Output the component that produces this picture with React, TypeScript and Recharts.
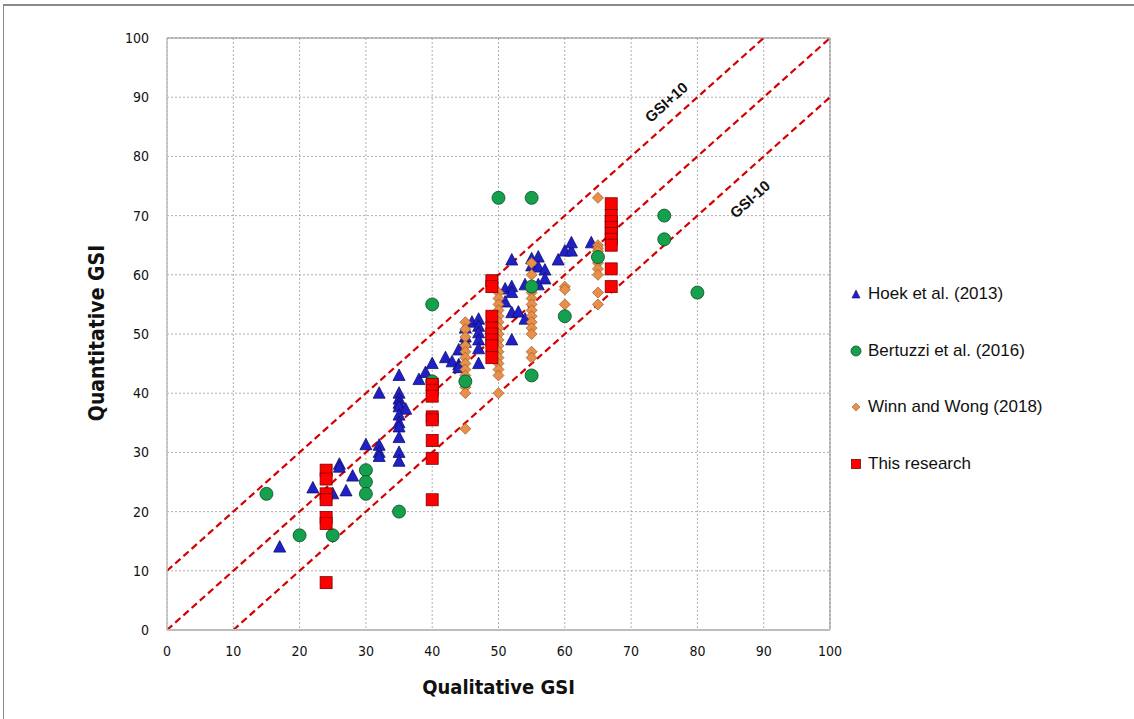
import React from 'react';
import {
  ScatterChart, Scatter, XAxis, YAxis, CartesianGrid, ReferenceLine, ReferenceDot,
} from 'recharts';

type Pt = { x: number; y: number };

const ticks = [0, 10, 20, 30, 40, 50, 60, 70, 80, 90, 100];

const hoekData: Pt[] = [
  { x: 17, y: 14 }, { x: 22, y: 24 }, { x: 25, y: 23 }, { x: 26, y: 28 }, { x: 26, y: 27.5 },
  { x: 27, y: 23.5 }, { x: 28, y: 26 }, { x: 30, y: 31.3 }, { x: 32, y: 31.2 }, { x: 32, y: 30 },
  { x: 32, y: 29.3 }, { x: 32, y: 40 }, { x: 35, y: 43 }, { x: 35, y: 40 }, { x: 35, y: 39 },
  { x: 35, y: 38.3 }, { x: 35, y: 37.7 }, { x: 36, y: 37.3 }, { x: 35, y: 36.3 }, { x: 35, y: 35 },
  { x: 35, y: 34.3 }, { x: 35, y: 32.5 }, { x: 35, y: 30 }, { x: 35, y: 28.5 }, { x: 38, y: 42.3 },
  { x: 39, y: 43.5 }, { x: 40, y: 45 }, { x: 42, y: 46 }, { x: 43, y: 45.3 }, { x: 44, y: 47.3 },
  { x: 44, y: 44.8 }, { x: 44, y: 44.3 }, { x: 45, y: 51 }, { x: 45, y: 49.5 }, { x: 45, y: 48.6 },
  { x: 46, y: 52 }, { x: 47, y: 52.5 }, { x: 47, y: 51.3 }, { x: 47, y: 50.2 }, { x: 47, y: 49 },
  { x: 47, y: 47.5 }, { x: 47, y: 45 }, { x: 51, y: 57.6 }, { x: 52, y: 58 }, { x: 52, y: 57 },
  { x: 51, y: 55.4 }, { x: 52, y: 53.6 }, { x: 53, y: 53.7 }, { x: 52, y: 49 }, { x: 54, y: 52.5 },
  { x: 52, y: 62.5 }, { x: 55, y: 62.7 }, { x: 56, y: 63 }, { x: 55, y: 61.5 }, { x: 56, y: 61.3 },
  { x: 57, y: 60.8 }, { x: 57, y: 59.3 }, { x: 54, y: 58.3 }, { x: 56, y: 58.3 }, { x: 59, y: 62.5 },
  { x: 60, y: 64 }, { x: 61, y: 64 }, { x: 61, y: 65.4 }, { x: 64, y: 65.4 },
];

const bertuzziData: Pt[] = [
  { x: 15, y: 23 }, { x: 20, y: 16 }, { x: 25, y: 16 }, { x: 30, y: 27 }, { x: 30, y: 25 },
  { x: 30, y: 23 }, { x: 35, y: 20 }, { x: 40, y: 55 }, { x: 40, y: 42 }, { x: 45, y: 42 },
  { x: 50, y: 73 }, { x: 55, y: 73 }, { x: 55, y: 58 }, { x: 55, y: 43 }, { x: 60, y: 53 },
  { x: 65, y: 63 }, { x: 75, y: 70 }, { x: 75, y: 66 }, { x: 80, y: 57 },
];

const winnData: Pt[] = [
  { x: 45, y: 52 }, { x: 45, y: 50.8 }, { x: 45, y: 49.5 }, { x: 45, y: 48 }, { x: 45, y: 47 },
  { x: 45, y: 46 }, { x: 45, y: 45 }, { x: 45, y: 44 }, { x: 45, y: 43 }, { x: 45, y: 42 },
  { x: 45, y: 41 }, { x: 45, y: 40 }, { x: 45, y: 34 },
  { x: 50, y: 57 }, { x: 50, y: 56 }, { x: 50, y: 55 }, { x: 50, y: 54 }, { x: 50, y: 53 },
  { x: 50, y: 52 }, { x: 50, y: 51 }, { x: 50, y: 50 }, { x: 50, y: 49 }, { x: 50, y: 48 },
  { x: 50, y: 47 }, { x: 50, y: 46 }, { x: 50, y: 45 }, { x: 50, y: 44 }, { x: 50, y: 43 },
  { x: 50, y: 40 },
  { x: 55, y: 62 }, { x: 55, y: 60 }, { x: 55, y: 57 }, { x: 55, y: 56 }, { x: 55, y: 55 },
  { x: 55, y: 54 }, { x: 55, y: 53 }, { x: 55, y: 52 }, { x: 55, y: 51 }, { x: 55, y: 50 },
  { x: 55, y: 47 }, { x: 55, y: 46 },
  { x: 60, y: 58 }, { x: 60, y: 57.5 }, { x: 60, y: 55 },
  { x: 65, y: 73 }, { x: 65, y: 65 }, { x: 65, y: 64.5 }, { x: 65, y: 64 }, { x: 65, y: 63 },
  { x: 65, y: 62.5 }, { x: 65, y: 62 }, { x: 65, y: 61 }, { x: 65, y: 60 }, { x: 65, y: 57 },
  { x: 65, y: 55 },
];

const researchData: Pt[] = [
  { x: 24, y: 27 }, { x: 24, y: 25.5 }, { x: 24, y: 23 }, { x: 24, y: 22 }, { x: 24, y: 19 },
  { x: 24, y: 18 }, { x: 24, y: 8 },
  { x: 40, y: 41.5 }, { x: 40, y: 40.5 }, { x: 40, y: 39.5 }, { x: 40, y: 36 }, { x: 40, y: 35.5 },
  { x: 40, y: 32 }, { x: 40, y: 29 }, { x: 40, y: 22 },
  { x: 49, y: 59 }, { x: 49, y: 58 }, { x: 49, y: 53 }, { x: 49, y: 51 }, { x: 49, y: 50 },
  { x: 49, y: 49 }, { x: 49, y: 48 }, { x: 49, y: 46 },
  { x: 67, y: 72 }, { x: 67, y: 70 }, { x: 67, y: 69 }, { x: 67, y: 68 }, { x: 67, y: 67 },
  { x: 67, y: 66 }, { x: 67, y: 65 }, { x: 67, y: 61 }, { x: 67, y: 58 },
];

const upperLine = [{ x: 0, y: 10 }, { x: 90, y: 100 }];
const midLine = [{ x: 0, y: 0 }, { x: 100, y: 100 }];
const lowerLine = [{ x: 10, y: 0 }, { x: 100, y: 90 }];

const legendItems = [
  { name: 'Hoek et al. (2013)', kind: 'tri' },
  { name: 'Bertuzzi et al. (2016)', kind: 'circle' },
  { name: 'Winn and Wong (2018)', kind: 'diamond' },
  { name: 'This research', kind: 'square' },
];

const narrow = "'Liberation Sans Narrow', 'DejaVu Sans Condensed', 'Liberation Sans', Arial, sans-serif";

const Triangle = (p: any) => {
  const { cx, cy } = p;
  return <path d={`M${cx},${cy - 6.5}L${cx + 6},${cy + 5}L${cx - 6},${cy + 5}Z`} fill="#2020C8" stroke="#10106a" strokeWidth={0.8} />;
};
const Circle = (p: any) => <circle cx={p.cx} cy={p.cy} r={6.5} fill="#14A04C" stroke="#0b4d24" strokeWidth={0.8} />;
const Diamond = (p: any) => {
  const { cx, cy } = p;
  return <path d={`M${cx},${cy - 5.5}L${cx + 5.5},${cy}L${cx},${cy + 5.5}L${cx - 5.5},${cy}Z`} fill="#E8904A" stroke="#9a5a28" strokeWidth={0.7} />;
};
const Square = (p: any) => <rect x={p.cx - 6} y={p.cy - 6} width={12} height={12} fill="#FF0000" stroke="#7a0000" strokeWidth={0.8} />;

const LegendIcon = ({ kind }: { kind: string }) => (
  <svg width={12} height={12} style={{ marginRight: 6 }}>
    {kind === 'tri' && <path d="M6,2L10,10L2,10Z" fill="#2020C8" stroke="#10106a" strokeWidth={0.6} />}
    {kind === 'circle' && <circle cx={6} cy={6} r={5} fill="#14A04C" stroke="#0b4d24" strokeWidth={0.8} />}
    {kind === 'diamond' && <path d="M6,2L10,6L6,10L2,6Z" fill="#E8904A" stroke="#9a5a28" strokeWidth={0.6} />}
    {kind === 'square' && <rect x={1.5} y={1.5} width={9} height={9} fill="#FF0000" stroke="#7a0000" strokeWidth={0.8} />}
  </svg>
);

const rotLabel = (text: string) => (props: any) => {
  const vb = props.viewBox || {};
  const cx = (vb.x ?? 0) + (vb.width ?? 0) / 2;
  const cy = (vb.y ?? 0) + (vb.height ?? 0) / 2;
  return (
    <text x={cx} y={cy} textAnchor="middle" dominantBaseline="central" transform={`rotate(-41.8, ${cx}, ${cy})`}
      fontFamily="'Liberation Sans', Arial, sans-serif" fontWeight="bold" fontSize={15} fill="#111">
      {text}
    </text>
  );
};

export default function App() {
  return (
    <div style={{ position: 'absolute', left: 0, top: 0, width: 1134, height: 719, background: '#fff' }}>
      <div style={{ position: 'absolute', left: 3, top: 4, width: 1131, height: 715, borderLeft: '1.5px solid #8a8a8a', borderTop: '2px solid #8a8a8a' }} />
      <ScatterChart width={1134} height={719} margin={{ top: 38, right: 304, bottom: 59, left: 100 }}>
        <CartesianGrid stroke="#9a9a9a" strokeDasharray="2 2" strokeWidth={0.8} horizontalValues={ticks} verticalValues={ticks} />
        <XAxis type="number" dataKey="x" domain={[0, 100]} ticks={ticks} height={30} tickLine={false}
          axisLine={{ stroke: '#bdbdbd', strokeWidth: 2 }} tickMargin={10}
          tick={{ fontFamily: narrow, fontSize: 14, fill: '#111' }} />
        <YAxis type="number" dataKey="y" domain={[0, 100]} ticks={ticks} width={67} tickLine={false}
          axisLine={{ stroke: '#bdbdbd', strokeWidth: 1.5 }} tickMargin={12}
          tick={{ fontFamily: narrow, fontSize: 14, fill: '#111' }} />
        <ReferenceLine y={100} stroke="#8a8a8a" strokeWidth={1} />
        <ReferenceLine x={100} stroke="#8a8a8a" strokeWidth={1} />
        <ReferenceLine segment={upperLine} stroke="#D40000" strokeWidth={2.2} strokeDasharray="7 4" />
        <ReferenceLine segment={midLine} stroke="#D40000" strokeWidth={2.2} strokeDasharray="7 4" />
        <ReferenceLine segment={lowerLine} stroke="#D40000" strokeWidth={2.2} strokeDasharray="7 4" />
        <ReferenceDot x={75.3} y={89.2} r={0} fill="none" stroke="none" label={rotLabel('GSI+10')} />
        <ReferenceDot x={87.9} y={72.8} r={0} fill="none" stroke="none" label={rotLabel('GSI-10')} />
        <Scatter name="Hoek et al. (2013)" data={hoekData} shape={Triangle} isAnimationActive={false} />
        <Scatter name="Winn and Wong (2018)" data={winnData} shape={Diamond} isAnimationActive={false} />
        <Scatter name="Bertuzzi et al. (2016)" data={bertuzziData} shape={Circle} isAnimationActive={false} />
        <Scatter name="This research" data={researchData} shape={Square} isAnimationActive={false} />
      </ScatterChart>
      <div style={{ position: 'absolute', left: 850, top: 266, width: 280, fontFamily: "'Liberation Sans', Arial, sans-serif", fontSize: 17, color: '#111' }}>
        {legendItems.map((it) => (
          <div key={it.name} style={{ display: 'flex', alignItems: 'center', height: 56.5 }}>
            <LegendIcon kind={it.kind} />
            <span>{it.name}</span>
          </div>
        ))}
      </div>
      <div style={{ position: 'absolute', left: 167, width: 663, top: 675, textAlign: 'center', fontFamily: narrow, fontWeight: 'bold', fontSize: 20, color: '#111' }}>
        Qualitative GSI
      </div>
      <div style={{ position: 'absolute', left: 97, top: 334, width: 0, height: 0 }}>
        <div style={{ position: 'absolute', left: -120, top: -13, width: 240, textAlign: 'center', transform: 'rotate(-90deg)', fontFamily: narrow, fontWeight: 'bold', fontSize: 21, color: '#111' }}>
          Quantitative GSI
        </div>
      </div>
    </div>
  );
}
